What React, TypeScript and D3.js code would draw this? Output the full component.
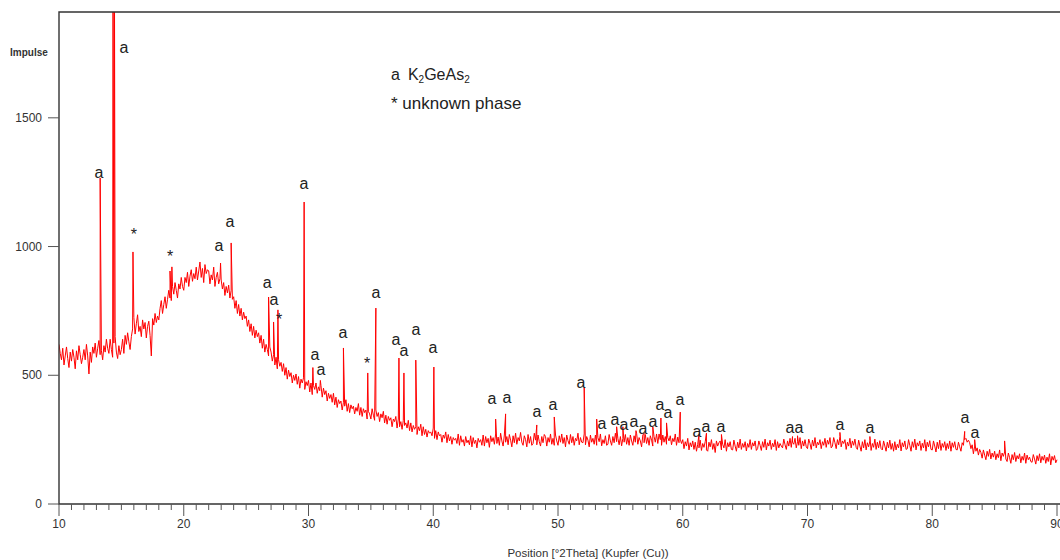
import React, { useRef, useEffect } from 'react';
import * as d3 from 'd3';

// chart size and plot frame
const width = 1060;
const height = 560;
const margin = { top: 12, right: 3, bottom: 56, left: 59 };

// scan: 10 .. 90 °2Theta, one value every 0.1° (one row per degree)
const scanStart = 10;
const scanStep = 0.1;
const baseline: number[] = [
  620, 585, 560, 605, 540, 575, 610, 565, 530, 590, // 10
  555, 600, 570, 525, 595, 560, 615, 580, 545, 570,
  600, 560, 620, 575, 505, 590, 550, 610, 585, 625,
  570, 605, 635, 580, 595, 560, 615, 590, 640, 605,
  585, 640, 600, 570, 625, 650, 590, 565, 615, 580,
  600, 640, 585, 655, 620, 665, 630, 600, 650, 680, // 15
  725, 660, 700, 735, 670, 690, 650, 715, 680, 705,
  645, 690, 710, 655, 575, 720, 695, 740, 705, 730,
  715, 760, 790, 740, 775, 805, 760, 795, 830, 800,
  790, 845, 815, 860, 830, 800, 855, 835, 880, 845,
  830, 880, 860, 900, 845, 885, 910, 865, 895, 875, // 20
  920, 870, 905, 940, 880, 915, 860, 930, 895, 910,
  905, 855, 890, 870, 920, 845, 880, 900, 855, 875,
  870, 835, 860, 810, 845, 820, 850, 800, 830, 795,
  805, 760, 790, 740, 775, 730, 760, 715, 745, 720,
  730, 690, 715, 670, 700, 655, 690, 645, 675, 650, // 25
  665, 625, 655, 605, 640, 590, 620, 600, 575, 610,
  590, 555, 580, 540, 570, 525, 560, 535, 550, 515,
  545, 500, 530, 485, 520, 495, 510, 470, 500, 480,
  505, 465, 495, 450, 485, 470, 490, 445, 475, 460,
  480, 435, 470, 425, 460, 445, 470, 430, 455, 440, // 30
  460, 415, 450, 425, 440, 400, 430, 410, 425, 395,
  430, 385, 415, 375, 405, 390, 400, 365, 395, 380,
  405, 360, 390, 355, 385, 370, 380, 350, 375, 360,
  390, 345, 375, 340, 370, 355, 365, 330, 360, 350,
  330, 370, 345, 325, 365, 340, 355, 320, 350, 335, // 35
  360, 315, 345, 310, 340, 325, 335, 300, 330, 320,
  340, 295, 330, 300, 320, 290, 325, 305, 315, 295,
  325, 285, 315, 280, 305, 290, 300, 270, 300, 285,
  310, 265, 300, 270, 290, 260, 285, 275, 280, 265,
  295, 255, 285, 250, 280, 265, 270, 240, 268, 255, // 40
  280, 238, 270, 245, 262, 232, 258, 248, 255, 235,
  272, 228, 265, 240, 250, 225, 262, 238, 248, 230,
  265, 222, 258, 235, 248, 218, 255, 240, 250, 228,
  268, 225, 262, 238, 255, 220, 265, 242, 258, 232,
  272, 235, 260, 228, 275, 245, 225, 268, 240, 262, // 45
  230, 270, 248, 222, 265, 238, 275, 232, 258, 245,
  278, 240, 228, 265, 250, 222, 270, 236, 262, 228,
  235, 275, 248, 230, 268, 242, 225, 262, 238, 270,
  262, 225, 258, 240, 272, 232, 255, 228, 268, 245,
  228, 265, 240, 272, 235, 258, 222, 268, 246, 232, // 50
  270, 238, 262, 228, 255, 245, 275, 230, 258, 240,
  238, 272, 230, 262, 248, 222, 268, 240, 255, 232,
  268, 228, 258, 242, 272, 226, 250, 235, 265, 228,
  232, 270, 245, 228, 262, 238, 275, 242, 255, 230,
  262, 226, 255, 240, 270, 232, 258, 228, 268, 245, // 55
  228, 265, 240, 275, 232, 258, 245, 222, 268, 238,
  270, 235, 258, 228, 265, 248, 225, 262, 240, 272,
  235, 272, 250, 228, 268, 240, 262, 232, 258, 245,
  265, 230, 255, 242, 272, 228, 260, 238, 252, 235,
  250, 215, 242, 225, 255, 210, 238, 222, 245, 212, // 60
  240, 205, 232, 218, 248, 208, 235, 220, 242, 210,
  205, 240, 222, 250, 212, 235, 200, 245, 225, 238,
  245, 210, 232, 218, 250, 205, 238, 222, 242, 212,
  210, 248, 225, 205, 240, 218, 252, 212, 235, 220,
  242, 206, 235, 220, 250, 212, 238, 225, 245, 208, // 65
  215, 245, 228, 208, 242, 220, 252, 210, 238, 225,
  248, 212, 236, 222, 250, 208, 242, 218, 235, 225,
  218, 252, 230, 212, 245, 225, 255, 220, 240, 232,
  255, 218, 242, 228, 258, 215, 245, 225, 250, 222,
  215, 252, 235, 212, 248, 225, 258, 218, 240, 230, // 70
  250, 215, 242, 228, 255, 220, 248, 232, 258, 218,
  225, 258, 238, 215, 250, 230, 262, 222, 245, 235,
  250, 212, 240, 225, 255, 218, 245, 228, 252, 220,
  212, 248, 225, 205, 242, 218, 250, 210, 238, 222,
  245, 208, 235, 220, 252, 212, 240, 218, 246, 215, // 75
  210, 245, 225, 205, 240, 218, 248, 212, 235, 205,
  242, 210, 232, 218, 250, 206, 238, 222, 245, 212,
  215, 250, 228, 205, 242, 220, 252, 210, 238, 225,
  245, 208, 236, 218, 250, 205, 240, 222, 246, 212,
  210, 245, 225, 202, 240, 215, 248, 208, 235, 220, // 80
  242, 208, 235, 215, 245, 205, 238, 220, 242, 212,
  210, 240, 222, 205, 238, 228, 250, 255, 240, 248,
  238, 215, 230, 195, 225, 205, 218, 190, 212, 200,
  178, 210, 190, 172, 205, 185, 212, 175, 198, 182,
  205, 172, 195, 180, 210, 168, 198, 185, 202, 175, // 85
  165, 198, 180, 158, 192, 172, 200, 165, 188, 175,
  195, 160, 185, 170, 198, 158, 190, 172, 182, 165,
  162, 192, 175, 155, 188, 168, 195, 160, 185, 170,
  190, 158, 182, 165, 195, 152, 185, 170, 188, 160,
  172, // 90
];

// reflections: [position °2Theta, peak top in counts]
const peaks: [number, number][] = [
  [13.3, 1266], [14.33, 2100], [14.45, 1950], [15.93, 979], [18.9, 905], [19.05, 921],
  [22.95, 936], [23.8, 1014], [26.8, 804], [27.2, 707], [27.55, 754], [29.65, 1173],
  [30.35, 530], [30.95, 480], [32.8, 606], [34.75, 509], [35.4, 761], [37.25, 567],
  [37.65, 509], [38.6, 559], [40.05, 532], [45.0, 330], [45.8, 350], [48.3, 307],
  [49.7, 338], [52.1, 451], [53.1, 330], [54.7, 300], [55.2, 300], [56.25, 285],
  [56.9, 275], [57.6, 300], [58.25, 334], [58.7, 315], [59.8, 357], [61.3, 270],
  [61.9, 275], [63.1, 270], [68.8, 262], [69.2, 265], [72.6, 278], [75.0, 262],
  [82.6, 282], [83.4, 250], [85.8, 245],
];

// phase marks: [position, height in counts, mark]
const marks: [number, number, string][] = [
  [13.21, 1286, 'a'], [15.21, 1772, 'a'], [16.01, 1061, '*'], [18.9, 975, '*'],
  [22.83, 1002, 'a'], [23.71, 1096, 'a'], [26.68, 859, 'a'], [27.24, 793, 'a'],
  [27.64, 730, '*'], [29.64, 1243, 'a'], [30.52, 579, 'a'], [31.0, 521, 'a'],
  [32.77, 664, 'a'], [34.69, 559, '*'], [35.41, 820, 'a'], [37.01, 637, 'a'],
  [37.66, 594, 'a'], [38.62, 676, 'a'], [39.98, 606, 'a'], [44.71, 408, 'a'],
  [45.91, 412, 'a'], [48.32, 357, 'a'], [49.6, 385, 'a'], [51.84, 470, 'a'],
  [53.53, 311, 'a'], [54.57, 326, 'a'], [55.29, 307, 'a'], [56.09, 319, 'a'],
  [56.81, 291, 'a'], [57.62, 319, 'a'], [58.18, 385, 'a'], [58.82, 354, 'a'],
  [59.78, 404, 'a'], [61.14, 280, 'a'], [61.86, 299, 'a'], [63.07, 299, 'a'],
  [68.6, 295, 'a'], [69.32, 295, 'a'], [72.61, 307, 'a'], [75.01, 295, 'a'],
  [82.63, 334, 'a'], [83.43, 276, 'a'],
];

const xTicks = [10, 20, 30, 40, 50, 60, 70, 80, 90];
const yTicks = [0, 500, 1000, 1500];

const font = "'Liberation Sans', Arial, sans-serif";

export default function App() {
  const svgRef = useRef<SVGSVGElement>(null);

  useEffect(() => {
    if (!svgRef.current) return;
    document.body.style.margin = '0';

    const svg = d3.select(svgRef.current);
    svg.selectAll('*').remove();

    const x = d3.scaleLinear().domain([10, 90]).range([margin.left, 1057]);
    const y = d3.scaleLinear().domain([0, 1911]).range([height - margin.bottom, margin.top]);
    const y0 = y(0);

    // clip the pattern to the frame
    svg.append('clipPath').attr('id', 'plot-clip')
      .append('rect')
      .attr('x', margin.left).attr('y', margin.top)
      .attr('width', width - margin.left).attr('height', y0 - margin.top);

    // scan points + reflections, sorted by angle
    const points: [number, number][] = baseline
      .map((v, i) => [scanStart + i * scanStep, v] as [number, number])
      .concat(peaks)
      .sort((a, b) => a[0] - b[0]);

    const line = d3.line<[number, number]>()
      .x(d => x(d[0]))
      .y(d => y(d[1]));

    svg.append('path')
      .datum(points)
      .attr('clip-path', 'url(#plot-clip)')
      .attr('d', line)
      .attr('fill', 'none')
      .attr('stroke', '#ff0000')
      .attr('stroke-width', 1)
      .attr('stroke-linejoin', 'round');

    // frame: left axis, top border, bottom axis
    svg.append('path')
      .attr('d', `M${width},${margin.top}H${margin.left}V${y0}H${width}`)
      .attr('fill', 'none')
      .attr('stroke', '#333')
      .attr('stroke-width', 1.4);

    // x ticks: minor every degree, major every 10
    svg.selectAll('line.minor')
      .data(x.ticks(80))
      .enter()
      .append('line')
      .attr('x1', d => x(d)).attr('x2', d => x(d))
      .attr('y1', y0).attr('y2', d => y0 + (d % 10 === 0 ? 12 : 6))
      .attr('stroke', '#555')
      .attr('stroke-width', 1);

    svg.selectAll('text.xt')
      .data(xTicks)
      .enter()
      .append('text')
      .attr('x', d => x(d))
      .attr('y', y0 + 24)
      .attr('text-anchor', 'middle')
      .style('font-family', font)
      .style('font-size', '12px')
      .style('fill', '#333')
      .text(d => d);

    // y ticks
    svg.selectAll('line.yt')
      .data(yTicks)
      .enter()
      .append('line')
      .attr('x1', margin.left - 11).attr('x2', margin.left)
      .attr('y1', d => y(d)).attr('y2', d => y(d))
      .attr('stroke', '#555')
      .attr('stroke-width', 1);

    svg.selectAll('text.yt')
      .data(yTicks)
      .enter()
      .append('text')
      .attr('x', margin.left - 17)
      .attr('y', d => y(d) + 4)
      .attr('text-anchor', 'end')
      .style('font-family', font)
      .style('font-size', '12px')
      .style('fill', '#333')
      .text(d => d);

    svg.append('text')
      .attr('x', 10).attr('y', 56)
      .style('font-family', font)
      .style('font-size', '10px')
      .style('font-weight', 'bold')
      .style('fill', '#333')
      .text('Impulse');

    svg.append('text')
      .attr('x', 588).attr('y', 557)
      .attr('text-anchor', 'middle')
      .style('font-family', font)
      .style('font-size', '11.5px')
      .style('fill', '#333')
      .text('Position [°2Theta] (Kupfer (Cu))');

    // phase marks above the reflections
    svg.selectAll('text.mark')
      .data(marks)
      .enter()
      .append('text')
      .attr('x', d => x(d[0]))
      .attr('y', d => y(d[1]) + (d[2] === '*' ? 9 : 5))
      .attr('text-anchor', 'middle')
      .style('font-family', font)
      .style('font-size', '16px')
      .style('fill', '#222')
      .text(d => d[2]);

    // legend
    const leg1 = svg.append('text')
      .attr('x', 391).attr('y', 80)
      .style('font-family', font)
      .style('font-size', '16px')
      .style('fill', '#222');
    leg1.append('tspan').text('a');
    leg1.append('tspan').attr('dx', 8).text('K');
    leg1.append('tspan').attr('dy', 3).style('font-size', '10px').text('2');
    leg1.append('tspan').attr('dy', -3).text('GeAs');
    leg1.append('tspan').attr('dy', 3).style('font-size', '10px').text('2');

    svg.append('text')
      .attr('x', 391).attr('y', 109)
      .style('font-family', font)
      .style('font-size', '17px')
      .style('fill', '#222')
      .text('* unknown phase');
  }, []);

  return (
    <svg ref={svgRef} width={width} height={height} style={{ display: 'block', background: '#fff' }}></svg>
  );
}
